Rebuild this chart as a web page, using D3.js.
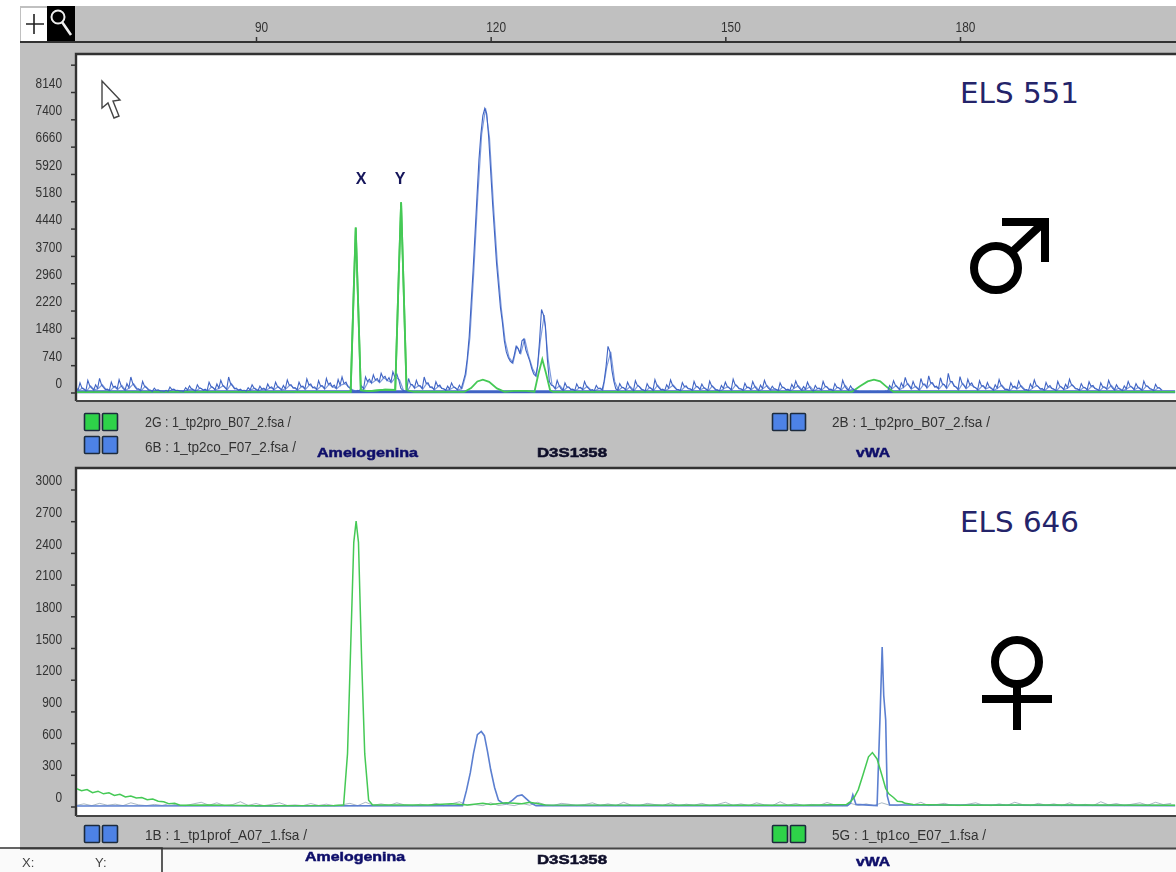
<!DOCTYPE html>
<html><head><meta charset="utf-8">
<style>
html,body{margin:0;padding:0;background:#fff;overflow:hidden}
svg{display:block}
text{font-family:"Liberation Sans",Arial,sans-serif}
</style>
<script src="https://cdn.jsdelivr.net/npm/d3@7/dist/d3.min.js"></script>
</head><body><div id="chart"></div>
<script>
// ---------- data ----------
const sizeTicks = [90,120,150,180];
const maleTicks = [0,740,1480,2220,2960,3700,4440,5180,5920,6660,7400,8140];
const femaleTicks = [0,300,600,900,1200,1500,1800,2100,2400,2700,3000];

// male panel, blue traces: one reading every half size unit, from size 67
const maleBlueA = [
150,260,90,330,120,210,380,140,90,280,
170,350,110,240,420,160,100,300,130,60,
120,70,40,60,150,90,60,40,130,180,
70,210,110,90,280,130,230,330,140,420,
180,120,90,60,130,210,80,170,120,230,
150,280,120,190,340,210,130,280,170,370,
230,150,320,180,380,260,200,350,420,280,
120,30,60,180,420,360,480,380,520,440,
400,560,500,120,40,380,210,330,180,420,
260,150,290,200,100,170,260,120,200,300,
900,2400,4300,6300,7500,7550,6000,4300,2900,1900,
1100,850,1000,1200,1400,1150,850,500,700,2250,
1800,300,180,330,100,260,150,90,230,140,
300,110,80,190,120,300,1250,600,100,240,
130,280,90,320,160,70,240,110,350,130,
90,210,340,140,80,270,180,100,300,150,
230,90,310,130,70,190,280,120,360,170,
100,250,140,300,90,200,330,120,170,80,
260,130,90,220,310,110,160,280,70,190,
120,300,150,90,240,130,330,100,180,60,
30,20,20,30,20,30,20,40,190,320,
140,260,410,180,300,120,380,230,450,260,
170,400,210,520,300,150,430,190,360,260,
130,320,180,270,110,210,350,140,90,260,
170,310,120,80,230,340,160,110,270,190,
90,300,140,220,360,170,100,240,130,290,
190,90,260,150,330,120,210,80,180,300,
140,240,100,310,170,90,220,130
];
const maleBlueB = [
60,120,40,180,70,110,210,80,50,150,
90,190,60,130,240,90,50,170,70,30,
60,40,30,30,80,50,40,30,70,100,
40,120,60,50,160,70,120,190,80,240,
100,60,50,40,70,120,50,90,70,130,
80,160,70,100,200,120,70,160,90,210,
130,80,180,100,220,150,110,200,240,160,
70,30,40,100,300,260,340,280,400,320,
280,420,340,60,30,220,120,190,100,250,
140,80,170,110,60,90,150,70,110,500,
1500,3300,5300,7000,7700,6900,5100,3500,2300,1400,
950,800,1250,1050,1450,1000,650,450,1400,2100,
900,200,100,190,60,150,80,50,130,80,
170,60,50,110,70,700,1100,300,60,140,
70,160,50,190,90,40,140,60,200,70,
50,120,200,80,50,160,100,60,170,80,
130,50,180,70,40,110,160,70,210,100,
60,140,80,170,50,110,190,70,100,50,
150,70,50,120,180,60,90,160,40,110,
70,170,80,50,140,70,190,60,100,40,
20,20,20,20,20,20,20,30,110,190,
80,150,240,100,170,70,220,130,260,150,
100,230,120,300,170,80,250,110,210,150,
70,180,100,150,60,120,200,80,50,150,
100,180,70,50,130,190,90,60,150,110,
50,170,80,130,210,100,60,140,70,170,
110,50,150,90,190,70,120,50,100,170,
80,140,60,180,100,50,130,70
];
// baseline run of the blue channel: [size, value]
const maleBlueBase = [[67,20],[207.5,20]];
// male panel, green trace: [size, value]
const maleGreen = [
[67,10],[80,15],[95,15],[102.1,20],[102.5,2800],[102.75,4470],[103,2800],[103.4,60],[104.5,40],
[105.5,60],[106.5,80],[107.8,70],[108.25,3200],[108.55,5150],[108.85,3000],[109.25,60],[110.2,20],
[116.6,15],[117.5,120],[118.3,300],[119,350],[119.8,290],[120.8,110],[121.8,20],[123,45],[124.5,45],[125.6,20],
[126.1,500],[126.6,900],[127.1,500],[127.6,60],[128,15],[150,15],[166.2,20],[167.2,170],[168.2,300],[169,350],
[169.8,300],[170.7,140],[171.5,20],[190,15],[207.5,15]
];
// female panel
const femaleBlue = [
[67,5],[116.4,8],[116.9,150],[117.4,320],[117.8,500],[118.3,680],[118.8,710],[119.2,670],[119.6,520],[120,350],
[120.5,180],[121,60],[121.6,30],[122.2,30],[122.8,60],[123.4,100],[124,110],[124.6,70],[125.2,30],[125.8,8],
[165.6,8],[166,30],[166.3,110],[166.7,20],[169.4,8],[169.8,900],[170.05,1510],[170.25,1050],[170.5,820],[170.7,100],[171,15],[207.5,8]
];
const femaleGreen = [
[67,170],[67.7,150],[68.4,160],[69.1,130],[69.8,145],[70.5,120],[71.2,130],[71.9,105],[72.6,115],[73.3,90],[74,100],
[74.7,80],[75.4,85],[76.1,65],[76.8,70],[77.5,50],[78.2,45],[78.9,25],[79.6,30],[80.3,12],[84,15],[90,8],[100,10],
[101.2,15],[101.7,500],[102.1,1500],[102.5,2500],[102.8,2700],[103.1,2500],[103.5,1400],[103.9,500],[104.4,60],[104.9,15],
[112,15],[115,25],[117,15],[119,30],[120,18],[122,35],[124,25],[125,40],[127,15],
[160,12],[165.5,20],[166,45],[166.5,90],[167,160],[167.6,300],[168.3,470],[168.8,510],[169.4,450],[170,300],[170.5,170],
[170.9,120],[171.5,85],[172,50],[172.6,45],[173,30],[174,20],[180,12],[195,15],[207.5,12]
];
// female panel speckle: one reading per size unit, from size 67
const femaleSpeck = [
10,25,8,30,12,22,8,35,15,8,20,10,30,12,8,25,40,12,35,8,
18,45,10,28,8,20,35,10,15,8,28,10,22,8,15,30,8,40,12,25,
10,35,15,8,22,10,30,8,25,45,12,18,8,35,10,20,8,28,12,40,
15,8,30,22,8,18,35,10,25,8,40,12,8,30,18,10,35,8,22,12,
30,8,20,40,10,25,8,35,15,8,45,12,28,8,20,10,38,15,8,30,
10,25,8,35,12,8,28,15,40,8,18,30,10,8,22,35,12,8,25,10,
40,18,8,30,12,25,8,35,10,20,8,45,15,28,8,22,35,12,40,18,30
];

const annotations = [["X",361,178],["Y",400,178]];
const fileLabels = [
 ["2G : 1_tp2pro_B07_2.fsa /",145,422,146],["6B : 1_tp2co_F07_2.fsa /",145,447,151],
 ["2B : 1_tp2pro_B07_2.fsa /",832,422,158],["1B : 1_tp1prof_A07_1.fsa /",145,835,162],
 ["5G : 1_tp1co_E07_1.fsa /",832,835,154]];
const legendChips = [[84,413,"g"],[84,436,"b"],[772,413,"b"],[84,825,"b"],[772,825,"g"]];
const markerLabels = [
 ["Amelogenina",317,452,101],["D3S1358",537,452,70],["vWA",856,452,34],
 ["Amelogenina",305,856,100],["D3S1358",537,859,70],["vWA",856,861,34]];
const sampleTitles = [["ELS 551",960,93],["ELS 646",960,522]];

// ---------- drawing ----------
const W=1176,H=872,L=77;
const svg=d3.select("#chart").append("svg").attr("width",W).attr("height",H);
const defs=svg.append("defs");
defs.append("filter").attr("id","soft").append("feGaussianBlur").attr("stdDeviation",0.45);
defs.append("filter").attr("id","soft2").attr("filterUnits","userSpaceOnUse").attr("x",0).attr("y",0).attr("width",W).attr("height",H)
  .append("feGaussianBlur").attr("stdDeviation",0.35);
defs.append("clipPath").attr("id","c1").append("rect").attr("x",L).attr("y",55).attr("width",W-L).attr("height",345);
defs.append("clipPath").attr("id","c2").append("rect").attr("x",L).attr("y",469).attr("width",W-L).attr("height",346);

const x=d3.scaleLinear().domain([90,180]).range([256,960]);
const yM=d3.scaleLinear().domain([0,8140]).range([392.5,92]);
const yF=d3.scaleLinear().domain([0,3000]).range([806.5,489.5]);

svg.append("rect").attr("x",20).attr("y",6).attr("width",W-20).attr("height",842).attr("fill","#c0c0c0");
svg.append("rect").attr("x",0).attr("y",849).attr("width",W).attr("height",23).attr("fill","#fafafa");
const soft=svg.append("g").attr("filter","url(#soft)");

// toolbar
soft.append("rect").attr("x",21).attr("y",8).attr("width",26).attr("height",33).attr("fill","#fff");
soft.append("rect").attr("x",47).attr("y",6).attr("width",28).attr("height",36).attr("fill","#000");
soft.append("path").attr("d","M34 14V34M26 24H44").attr("stroke","#222").attr("stroke-width",1.6).attr("fill","none");
soft.append("circle").attr("cx",58).attr("cy",17).attr("r",6.5).attr("fill","none").attr("stroke","#eee").attr("stroke-width",2);
soft.append("path").attr("d","M62 22L71 35").attr("stroke","#eee").attr("stroke-width",2.6);
soft.append("rect").attr("x",20).attr("y",41).attr("width",W-20).attr("height",2).attr("fill","#333");

// panels
[[55,345],[469,346]].forEach(([t,h])=>{
  soft.append("rect").attr("x",L).attr("y",t).attr("width",W-L).attr("height",h).attr("fill","#fff");
  soft.append("path").attr("d",`M${L-1} ${t+h+1}V${t-1}H${W}`).attr("fill","none").attr("stroke","#333").attr("stroke-width",2.4);
  soft.append("path").attr("d",`M${L-1} ${t+h+1}H${W}`).attr("fill","none").attr("stroke","#444").attr("stroke-width",2);
});

// axes
const styleAxis=(g,dy)=>{
  g.select(".domain").remove();
  g.selectAll("line").attr("stroke","#333").attr("stroke-width",1.5);
  g.selectAll("text").attr("fill","#333").attr("font-size",14).attr("dy",dy).attr("textLength",t=>String(t).length*6.6).attr("lengthAdjust","spacingAndGlyphs");
};
soft.append("g").attr("transform","translate(0,42)")
  .call(d3.axisTop(x).tickValues(sizeTicks).tickSize(5).tickPadding(9).tickFormat(d3.format("d")))
  .call(g=>{styleAxis(g,"0.32em");g.selectAll("text").attr("x",5);});
soft.append("g").attr("transform",`translate(${L-2},0)`)
  .call(d3.axisLeft(yM).tickValues(maleTicks.concat([8880])).tickSize(4).tickPadding(9).tickFormat(d=>d===8880?"":d))
  .call(g=>styleAxis(g,"-0.35em"));
soft.append("g").attr("transform",`translate(${L-2},0)`)
  .call(d3.axisLeft(yF).tickValues(femaleTicks).tickSize(4).tickPadding(9).tickFormat(d3.format("d")))
  .call(g=>styleAxis(g,"-0.35em"));

// traces
const BLUE="#3f64c4",LIGHT="#7f9bdc",GREEN="#45c955",FBLUE="#5b7fd0";
const lineM=d3.line().x(d=>x(d[0])).y(d=>yM(d[1]));
const lineF=d3.line().x(d=>x(d[0])).y(d=>yF(d[1]));
const gM=svg.append("g").attr("clip-path","url(#c1)").attr("fill","none").append("g").attr("filter","url(#soft2)");
const gF=svg.append("g").attr("clip-path","url(#c2)").attr("fill","none").append("g").attr("filter","url(#soft2)");
const half=(arr,start)=>arr.map((v,i)=>[start+i*0.5,v]);
const merged=maleBlueA.flatMap((v,i)=>[[67+i*0.5,v],[67.25+i*0.5,maleBlueB[i]]]);
gM.append("path").attr("d",lineM(half(maleBlueB,67.35))).attr("stroke",LIGHT).attr("stroke-width",1.2);
gM.append("path").attr("d",lineM(maleBlueBase)).attr("stroke",BLUE).attr("stroke-width",3);
gM.append("path").attr("d",lineM(maleGreen)).attr("stroke",GREEN).attr("stroke-width",1.8);
gM.append("path").attr("d",lineM(merged)).attr("stroke",BLUE).attr("stroke-width",1.1);
gM.append("path").attr("d",lineM(maleGreen.slice(2,16))).attr("stroke",GREEN).attr("stroke-width",1.8);
gF.append("path").attr("d",lineF(femaleSpeck.map((v,i)=>[67+i,v]))).attr("stroke","#4c6a80").attr("stroke-width",0.8).attr("opacity",0.6);
gF.append("path").attr("d",lineF(femaleBlue)).attr("stroke",FBLUE).attr("stroke-width",1.6);
gF.append("path").attr("d",lineF(femaleGreen)).attr("stroke",GREEN).attr("stroke-width",1.5);

// pointer
soft.append("path").attr("d","M102 81L102 108L108 103L114 118L119 116L113 101L120 100Z")
  .attr("fill","#fff").attr("stroke","#444").attr("stroke-width",1.4);

// legend chips
legendChips.forEach(([cx,cy,k])=>{
  [0,18].forEach(o=>{
    soft.append("rect").attr("x",cx+o+0.5).attr("y",cy+0.5).attr("width",15).attr("height",17)
      .attr("fill",k==="g"?"#2fd24a":"#4d82e6").attr("stroke","#1c2c3c").attr("stroke-width",1.6).attr("rx",1);
  });
});
// file labels
fileLabels.forEach(([t,tx,ty,w])=>{
  soft.append("text").text(t).attr("x",tx).attr("y",ty).attr("dy","0.35em").attr("font-size",14).attr("fill","#333")
    .attr("textLength",w).attr("lengthAdjust","spacingAndGlyphs");
});

// status box
soft.append("rect").attr("x",0).attr("y",0).attr("width",20).attr("height",849).attr("fill","#fff");
soft.append("rect").attr("x",20).attr("y",847.5).attr("width",W-20).attr("height",2).attr("fill","#444");
soft.append("path").attr("d","M0 848H162V872").attr("fill","none").attr("stroke","#333").attr("stroke-width",1.6);
soft.append("text").text("X:").attr("x",22).attr("y",867).attr("font-size",13).attr("fill","#444");
soft.append("text").text("Y:").attr("x",95).attr("y",867).attr("font-size",13).attr("fill","#444");

// marker names
markerLabels.forEach(([t,tx,ty,w])=>{
  soft.append("text").text(t).attr("x",tx).attr("y",ty).attr("dy","0.35em").attr("font-size",13).attr("font-weight","bold")
    .attr("fill",t==="D3S1358"?"#0a0a28":"#10106a").attr("stroke",t==="D3S1358"?"#0a0a28":"#10106a").attr("stroke-width",0.5)
    .attr("textLength",w).attr("lengthAdjust","spacingAndGlyphs");
});
// allele letters
annotations.forEach(([t,tx,ty])=>{
  soft.append("text").text(t).attr("x",tx).attr("y",ty).attr("dy","0.35em").attr("text-anchor","middle")
    .attr("font-size",16).attr("font-weight","bold").attr("fill","#14145a");
});
// sample titles
sampleTitles.forEach(([t,tx,ty])=>{
  svg.append("text").text(t).attr("x",tx).attr("y",ty).attr("dy","0.35em").attr("font-size",29)
    .attr("fill","#24246a").attr("textLength",119).attr("lengthAdjust","spacingAndGlyphs")
    .style("font-family","'DejaVu Sans',sans-serif");
});
// sex symbols
const sym=svg.append("g").attr("fill","none").attr("stroke","#000").attr("stroke-width",8);
sym.append("circle").attr("cx",996).attr("cy",268).attr("r",22);
sym.append("path").attr("d","M1012 252L1042 224M1002 222H1045V262");
sym.append("circle").attr("cx",1017).attr("cy",662).attr("r",22);
sym.append("path").attr("d","M1017 684V730M982 699H1052");
</script>
</body></html>
